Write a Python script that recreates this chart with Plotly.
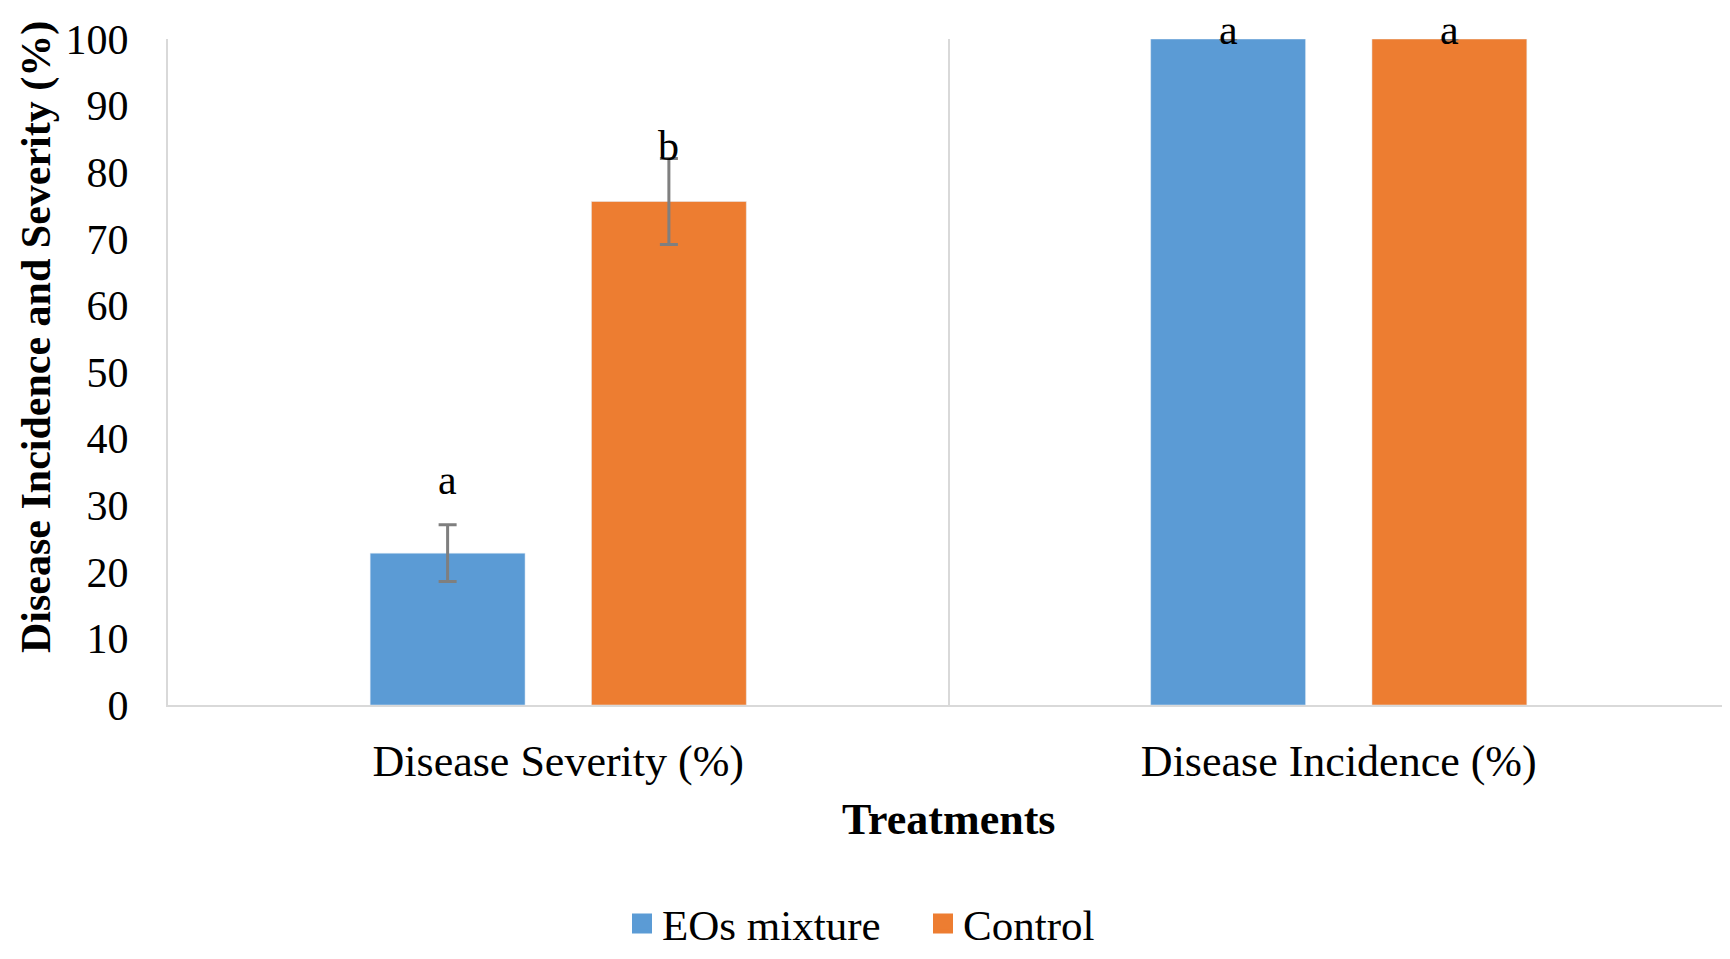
import plotly.graph_objects as go

categories = ["Disease Severity (%)", "Disease Incidence (%)"]
series_names = ["EOs mixture", "Control"]
eos_values = [22.8, 100]
eos_errors = [4.25, 0]
control_values = [75.6, 100]
control_errors = [6.45, 0]
eos_letters = ["a", "a"]
control_letters = ["b", "a"]
y_ticks = [0, 10, 20, 30, 40, 50, 60, 70, 80, 90, 100]

FONT = "Liberation Serif"
W, H = 1730, 959
ML, MR, MT, MB = 160, 9, 27, 237
BLUE = "#5b9bd5"
ORANGE = "#ed7d31"
GRID = "#d9d9d9"
ERR = "#7f7f7f"

fig = go.Figure()
fig.add_trace(go.Bar(
    name=series_names[0], x=categories, y=eos_values, marker_color=BLUE, showlegend=False,
    error_y=dict(type="data", array=eos_errors, color=ERR, thickness=3, width=9),
))
fig.add_trace(go.Bar(
    name=series_names[1], x=categories, y=control_values, marker_color=ORANGE, showlegend=False,
    error_y=dict(type="data", array=control_errors, color=ERR, thickness=3, width=9),
))
# legend entries with larger square swatches
for name, col in zip(series_names, [BLUE, ORANGE]):
    fig.add_trace(go.Scatter(x=[None], y=[None], mode="markers", name=name,
                             marker=dict(symbol="square", size=16, color=col,
                                         line=dict(color=col, width=4))))

bargap = 0.433
bargroupgap = 0.30
plot_w = W - ML - MR
plot_h = H - MT - MB
cat_w = plot_w / len(categories)
slot = cat_w * (1 - bargap) / 2
shift = slot / 2

# letters
yshifts_eos = [20, -16]
yshifts_ctl = [-12, -16]
for i, c in enumerate(categories):
    fig.add_annotation(x=c, y=eos_values[i] + eos_errors[i], text=eos_letters[i],
                       xref="x", yref="y", showarrow=False, xshift=-shift,
                       yanchor="bottom", yshift=yshifts_eos[i],
                       font=dict(family=FONT, size=42, color="black"))
    fig.add_annotation(x=c, y=control_values[i] + control_errors[i], text=control_letters[i],
                       xref="x", yref="y", showarrow=False, xshift=shift,
                       yanchor="bottom", yshift=yshifts_ctl[i],
                       font=dict(family=FONT, size=42, color="black"))

fig.add_annotation(text="<b>Treatments</b>", xref="paper", yref="paper",
                   x=0.5, y=-(842 - (H - MB)) / plot_h, showarrow=False,
                   yanchor="middle", font=dict(family=FONT, size=44, color="black"))
fig.add_annotation(text="<b>Disease Incidence and Severity (%)</b>", xref="paper", yref="paper",
                   x=-(ML - 28) / plot_w, y=((H - MB) - 338) / plot_h, textangle=-90,
                   showarrow=False, xanchor="center", yanchor="middle",
                   font=dict(family=FONT, size=42, color="black"))

fig.update_layout(
    width=W, height=H,
    margin=dict(l=ML, r=MR, t=MT, b=MB),
    paper_bgcolor="white", plot_bgcolor="white",
    barmode="group", bargap=bargap, bargroupgap=bargroupgap,
    font=dict(family=FONT, size=40, color="black"),
    showlegend=True,
    legend=dict(orientation="h", x=(614 - ML) / plot_w, xanchor="left",
                y=-(950 - (H - MB)) / plot_h, yanchor="middle",
                font=dict(family=FONT, size=43, color="black"),
                traceorder="normal", entrywidth=256),
)
fig.update_xaxes(
    tickson="boundaries", showgrid=True, gridcolor=GRID, gridwidth=2,
    showline=True, linecolor=GRID, linewidth=2, ticks="",
    ticklabelstandoff=16, tickfont=dict(family=FONT, size=44, color="black"),
)
fig.update_yaxes(
    range=[0, 100], tickvals=y_ticks, showgrid=False, zeroline=False,
    showline=True, linecolor=GRID, linewidth=2, ticks="",
    ticklabelstandoff=29, tickfont=dict(family=FONT, size=42, color="black"),
)

fig.write_html("out.html")
